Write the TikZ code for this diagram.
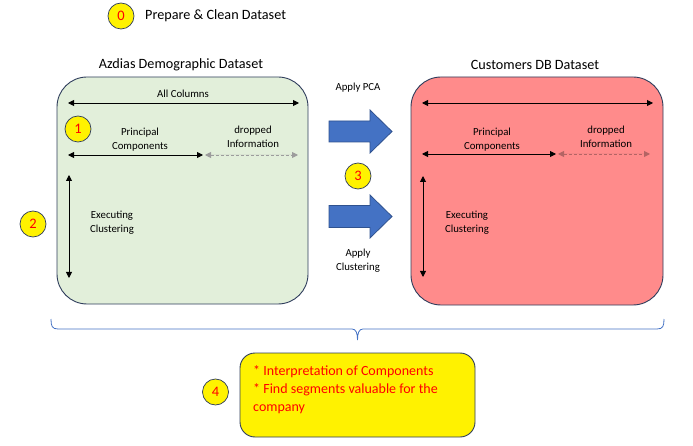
\documentclass[tikz,border=0pt]{standalone}
\usepackage{fontspec}
\setmainfont{Carlito}
\usetikzlibrary{arrows.meta}
\definecolor{navy}{HTML}{2F3D5C}
\definecolor{boxgreen}{HTML}{E2EFDA}
\definecolor{boxred}{HTML}{FF8B8B}
\definecolor{bluearrow}{HTML}{4472C4}
\definecolor{bluedark}{HTML}{2F528F}
\definecolor{dropgray}{HTML}{9C9C9C}
\definecolor{dropred}{HTML}{B36464}
\definecolor{numred}{HTML}{FF0000}
\tikzset{
  x=1pt, y=-1pt,
  dataset/.style={draw=navy, line width=0.9pt, rounded corners=30pt},
  title/.style={font=\fontsize{14.2}{17}\selectfont, anchor=center, inner sep=0},
  small/.style={font=\fontsize{10.8}{14}\selectfont, align=center, inner sep=0},
  numcircle/.style={circle, draw=navy, line width=0.7pt, fill=yellow, minimum size=26pt, inner sep=0, text=numred, font=\fontsize{14.5}{16}\selectfont},
  dim/.style={{Triangle[length=6pt,width=6pt]}-{Triangle[length=6pt,width=6pt]}, line width=0.9pt, black},
  dimdrop/.style={{Triangle[length=6pt,width=6pt]}-{Triangle[length=6pt,width=6pt]}, line width=0.9pt, dashed, dash pattern=on 3pt off 2pt},
  bigarrow/.style={draw=bluedark, line width=0.8pt, fill=bluearrow},
}
\begin{document}
\begin{tikzpicture}
\useasboundingbox (0,0) rectangle (693,446);

% step 0
\node[numcircle] (n0) at (121,16) {0};
\node[title, anchor=west] (t0) at (145,16) {Prepare \& Clean Dataset};

% left dataset
\draw[dataset, fill=boxgreen] (57,77) rectangle (308,304);
\node[title] (tl) at (181,65) {Azdias Demographic Dataset};
\coordinate (la1) at (68,103);
\coordinate (la2) at (299,103);
\draw[dim] (la1) -- (la2);
\node[small] (lac) at (183,94) {All Columns};
\node[numcircle] (n1) at (78,129) {1};
\coordinate (lp1) at (68,155);
\coordinate (lp2) at (203,155);
\coordinate (ld1) at (205,155);
\coordinate (ld2) at (298,155);
\draw[dim] (lp1) -- (lp2);
\draw[dimdrop, draw=dropgray, fill=dropgray] (ld1) -- (ld2);
\node[small] (lpc) at (140,140) {Principal\\Components};
\node[small] (ldi) at (253,137) {dropped\\Information};
\coordinate (lv1) at (69,175);
\coordinate (lv2) at (69,278);
\draw[dim] (lv1) -- (lv2);
\node[small] (lec) at (112,223) {Executing\\Clustering};
\node[numcircle] (n2) at (33,224) {2};

% right dataset
\draw[dataset, fill=boxred] (411,77) rectangle (663,305);
\node[title] (tr) at (535,65) {Customers DB Dataset};
\coordinate (ra1) at (422,103);
\coordinate (ra2) at (653,103);
\draw[dim] (ra1) -- (ra2);
\coordinate (rp1) at (422,154);
\coordinate (rp2) at (556,154);
\coordinate (rd1) at (558,154);
\coordinate (rd2) at (650,154);
\draw[dim] (rp1) -- (rp2);
\draw[dimdrop, draw=dropred, fill=dropred] (rd1) -- (rd2);
\node[small] (rpc) at (492,140) {Principal\\Components};
\node[small] (rdi) at (606,137) {dropped\\Information};
\coordinate (rv1) at (423,176);
\coordinate (rv2) at (423,277);
\draw[dim] (rv1) -- (rv2);
\node[small] (rec) at (467,223) {Executing\\Clustering};

% middle arrows
\node[small] (apca) at (358,88) {Apply PCA};
\draw[bigarrow] (329,121) -- (370,121) -- (370,110) -- (392,131.5) -- (370,153) -- (370,142) -- (329,142) -- cycle;
\node[numcircle] (n3) at (358,176) {3};
\draw[bigarrow] (329,205.5) -- (370,205.5) -- (370,195) -- (392,216.5) -- (370,238) -- (370,227.5) -- (329,227.5) -- cycle;
\node[small] (acl) at (358,261) {Apply\\Clustering};

% brace
\draw[bluearrow, line width=0.8pt]
  (51,319) .. controls (51,326) and (52,329) .. (58,329)
  -- (352,329) .. controls (356,329) and (357.5,333) .. (357.5,340)
  .. controls (357.5,333) and (359,329) .. (363,329)
  -- (657,329) .. controls (663,329) and (664,326) .. (664,319);

% step 4
\node[numcircle] (n4) at (215.5,392) {4};
\draw[draw=navy, line width=0.9pt, fill=yellow, rounded corners=15pt] (240,353) rectangle (475,437);
\node[font=\fontsize{14}{18}\selectfont, text=numred, align=left, anchor=north west, inner sep=0] (txt4) at (253,365)
  {* Interpretation of Components\\* Find segments valuable for the\\company};
\end{tikzpicture}
\end{document}
